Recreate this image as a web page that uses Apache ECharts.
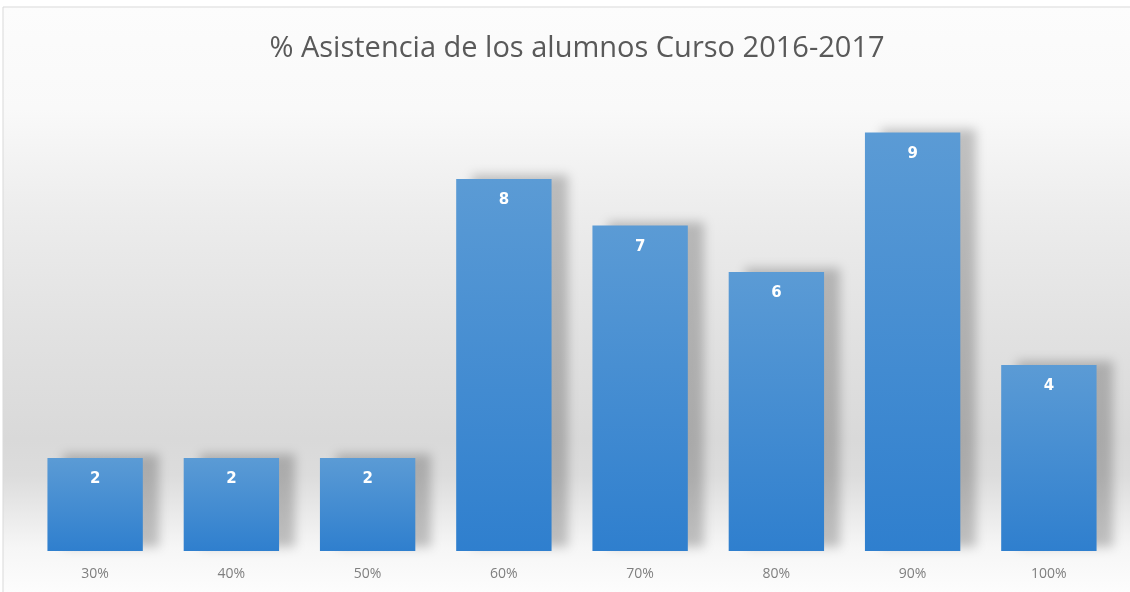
<!DOCTYPE html>
<html>
<head>
<meta charset="utf-8">
<script src="https://cdn.jsdelivr.net/npm/echarts@6/dist/echarts.min.js"></script>
<style>
html,body{margin:0;padding:0;background:#ffffff;}
#chart{width:1130px;height:592px;}
</style>
</head>
<body>
<div id="chart"></div>
<script>
const categories = ['30%', '40%', '50%', '60%', '70%', '80%', '90%', '100%'];
const values = [2, 2, 2, 8, 7, 6, 9, 4];
const titleText = '% Asistencia de los alumnos Curso 2016-2017';

const chart = echarts.init(document.getElementById('chart'));
chart.setOption({
  animation: false,
  backgroundColor: '#ffffff',
  graphic: [
    {
      type: 'rect', z: -10, silent: true,
      shape: { x: 3, y: 7, width: 1140, height: 600 },
      style: {
        fill: new echarts.graphic.LinearGradient(0, 0, 0, 1, [
          { offset: 0, color: '#fcfcfc' },
          { offset: 0.17, color: '#f9f9f9' },
          { offset: 0.35, color: '#ececec' },
          { offset: 0.55, color: '#e1e1e1' },
          { offset: 0.72, color: '#d9d9d9' },
          { offset: 0.78, color: '#dcdcdc' },
          { offset: 0.9, color: '#f6f6f6' },
          { offset: 1, color: '#ffffff' }
        ]),
        stroke: '#d9d9d9', lineWidth: 1
      }
    }
  ],
  title: {
    text: titleText,
    left: 'center',
    top: 29,
    left: 572,
    textAlign: 'center',
    textStyle: {
      fontFamily: "'Open Sans', sans-serif",
      fontSize: 29,
      fontWeight: 'normal',
      color: '#595959'
    }
  },
  grid: { left: 27, right: 13, top: 86, bottom: 41, containLabel: false },
  xAxis: {
    type: 'category',
    data: categories,
    axisLine: { show: false },
    axisTick: { show: false },
    axisLabel: {
      color: '#7f7f7f',
      fontSize: 14,
      fontFamily: "'Open Sans', sans-serif",
      margin: 16
    }
  },
  yAxis: {
    type: 'value',
    min: 0, max: 10, interval: 2,
    show: false
  },
  series: [{
    type: 'bar',
    data: values,
    barWidth: '70%',
    itemStyle: {
      color: new echarts.graphic.LinearGradient(0, 0, 0, 1, [
        { offset: 0, color: '#5b9bd5' },
        { offset: 1, color: '#2f7fce' }
      ]),
      shadowColor: 'rgba(0,0,0,0.22)',
      shadowBlur: 10,
      shadowOffsetX: 16,
      shadowOffsetY: -4
    },
    label: {
      show: true,
      position: 'insideTop',
      distance: 14,
      color: '#ffffff',
      fontWeight: 'bold',
      fontSize: 15,
      fontFamily: "'DejaVu Sans', sans-serif"
    }
  }]
});
</script>
</body>
</html>
